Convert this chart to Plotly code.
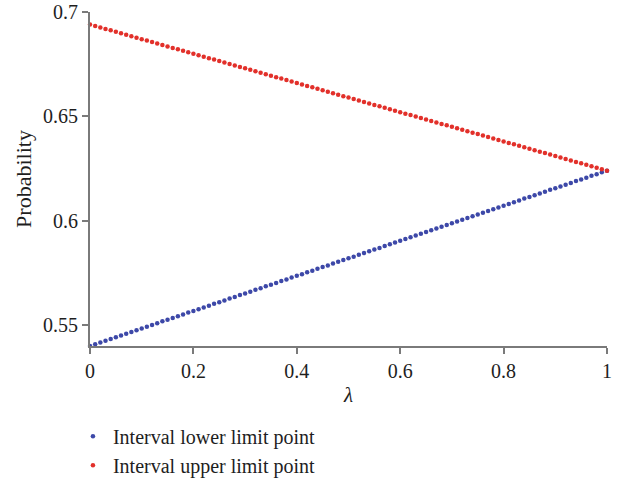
import plotly.graph_objects as go

lam = [0.00, 0.01, 0.02, 0.03, 0.04, 0.05, 0.06, 0.07, 0.08, 0.09,
       0.10, 0.11, 0.12, 0.13, 0.14, 0.15, 0.16, 0.17, 0.18, 0.19,
       0.20, 0.21, 0.22, 0.23, 0.24, 0.25, 0.26, 0.27, 0.28, 0.29,
       0.30, 0.31, 0.32, 0.33, 0.34, 0.35, 0.36, 0.37, 0.38, 0.39,
       0.40, 0.41, 0.42, 0.43, 0.44, 0.45, 0.46, 0.47, 0.48, 0.49,
       0.50, 0.51, 0.52, 0.53, 0.54, 0.55, 0.56, 0.57, 0.58, 0.59,
       0.60, 0.61, 0.62, 0.63, 0.64, 0.65, 0.66, 0.67, 0.68, 0.69,
       0.70, 0.71, 0.72, 0.73, 0.74, 0.75, 0.76, 0.77, 0.78, 0.79,
       0.80, 0.81, 0.82, 0.83, 0.84, 0.85, 0.86, 0.87, 0.88, 0.89,
       0.90, 0.91, 0.92, 0.93, 0.94, 0.95, 0.96, 0.97, 0.98, 0.99,
       1.00]

lower = [0.5400, 0.5408, 0.5417, 0.5425, 0.5434, 0.5442, 0.5450, 0.5459, 0.5467, 0.5476,
         0.5484, 0.5492, 0.5501, 0.5509, 0.5518, 0.5526, 0.5534, 0.5543, 0.5551, 0.5560,
         0.5568, 0.5576, 0.5585, 0.5593, 0.5602, 0.5610, 0.5618, 0.5627, 0.5635, 0.5644,
         0.5652, 0.5660, 0.5669, 0.5677, 0.5686, 0.5694, 0.5702, 0.5711, 0.5719, 0.5728,
         0.5736, 0.5744, 0.5753, 0.5761, 0.5770, 0.5778, 0.5786, 0.5795, 0.5803, 0.5812,
         0.5820, 0.5828, 0.5837, 0.5845, 0.5854, 0.5862, 0.5870, 0.5879, 0.5887, 0.5896,
         0.5904, 0.5912, 0.5921, 0.5929, 0.5938, 0.5946, 0.5954, 0.5963, 0.5971, 0.5980,
         0.5988, 0.5996, 0.6005, 0.6013, 0.6022, 0.6030, 0.6038, 0.6047, 0.6055, 0.6064,
         0.6072, 0.6080, 0.6089, 0.6097, 0.6106, 0.6114, 0.6122, 0.6131, 0.6139, 0.6148,
         0.6156, 0.6164, 0.6173, 0.6181, 0.6190, 0.6198, 0.6206, 0.6215, 0.6223, 0.6232,
         0.6240]

upper = [0.6940, 0.6933, 0.6926, 0.6919, 0.6912, 0.6905, 0.6898, 0.6891, 0.6884, 0.6877,
         0.6870, 0.6863, 0.6856, 0.6849, 0.6842, 0.6835, 0.6828, 0.6821, 0.6814, 0.6807,
         0.6800, 0.6793, 0.6786, 0.6779, 0.6772, 0.6765, 0.6758, 0.6751, 0.6744, 0.6737,
         0.6730, 0.6723, 0.6716, 0.6709, 0.6702, 0.6695, 0.6688, 0.6681, 0.6674, 0.6667,
         0.6660, 0.6653, 0.6646, 0.6639, 0.6632, 0.6625, 0.6618, 0.6611, 0.6604, 0.6597,
         0.6590, 0.6583, 0.6576, 0.6569, 0.6562, 0.6555, 0.6548, 0.6541, 0.6534, 0.6527,
         0.6520, 0.6513, 0.6506, 0.6499, 0.6492, 0.6485, 0.6478, 0.6471, 0.6464, 0.6457,
         0.6450, 0.6443, 0.6436, 0.6429, 0.6422, 0.6415, 0.6408, 0.6401, 0.6394, 0.6387,
         0.6380, 0.6373, 0.6366, 0.6359, 0.6352, 0.6345, 0.6338, 0.6331, 0.6324, 0.6317,
         0.6310, 0.6303, 0.6296, 0.6289, 0.6282, 0.6275, 0.6268, 0.6261, 0.6254, 0.6247,
         0.6240]

x_ticks = [0, 0.2, 0.4, 0.6, 0.8, 1]
x_tick_labels = ["0", "0.2", "0.4", "0.6", "0.8", "1"]
y_ticks = [0.55, 0.6, 0.65, 0.7]
y_tick_labels = ["0.55", "0.6", "0.65", "0.7"]

FONT = "Liberation Serif, DejaVu Serif, serif"
BLUE = "#3D48A8"
RED = "#E2302A"
TXT = "#1e1e1e"

fig = go.Figure()
fig.add_trace(go.Scatter(x=lam, y=lower, mode="markers", name="Interval lower limit point",
                         marker=dict(color=BLUE, size=4.5), cliponaxis=False))
fig.add_trace(go.Scatter(x=lam, y=upper, mode="markers", name="Interval upper limit point",
                         marker=dict(color=RED, size=4.5), cliponaxis=False))

axis_common = dict(showline=True, linecolor="#7a7a7a", linewidth=2, ticks="outside",
                   tickcolor="#7a7a7a", ticklen=6, tickwidth=1.5, showgrid=False,
                   zeroline=False, tickfont=dict(family=FONT, size=20, color=TXT))

fig.update_layout(
    width=631, height=479,
    margin=dict(l=90, r=24, t=12, b=133, autoexpand=False),
    paper_bgcolor="white", plot_bgcolor="white",
    font=dict(family=FONT, size=20, color=TXT),
    xaxis=dict(range=[0, 1], tickvals=x_ticks, ticktext=x_tick_labels,
               title=dict(text="<i>λ</i>", font=dict(family=FONT, size=21, color=TXT), standoff=6),
               **axis_common),
    yaxis=dict(range=[0.54, 0.7], tickvals=y_ticks, ticktext=y_tick_labels,
               title=dict(text="Probability", font=dict(family=FONT, size=22, color=TXT), standoff=5),
               **axis_common),
    showlegend=True,
    legend=dict(x=-0.033, y=-0.212, xanchor="left", yanchor="top", orientation="v",
                font=dict(family=FONT, size=20, color=TXT), itemwidth=30,
                tracegroupgap=0, bgcolor="rgba(0,0,0,0)"),
)

fig.write_html("out.html")
